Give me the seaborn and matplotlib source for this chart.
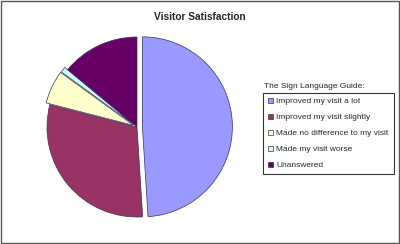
import matplotlib
matplotlib.use("Agg")
import matplotlib.pyplot as plt
import seaborn as sns
from matplotlib.patches import Rectangle

sns.set_style("white")
plt.rcParams['font.family'] = ['Liberation Sans', 'DejaVu Sans']

categories = ["Improved my visit a lot", "Improved my visit slightly",
              "Made no difference to my visit", "Made my visit worse", "Unanswered"]
values = [49, 30, 6, 1, 14]
colors = sns.color_palette(["#9999FF", "#993366", "#FFFFCC", "#CCFFFF", "#660066"])
explode = [0.06, 0.0, 0.045, 0.04, 0.0]

fig = plt.figure(figsize=(4.0, 2.44), dpi=100)
fig.patch.set_facecolor("white")

cx, cy, half = 137, 127, 100
ax = fig.add_axes([(cx - half) / 400, (244 - cy - half) / 244, 2 * half / 400, 2 * half / 244])
wedges, _ = ax.pie(values, colors=colors, startangle=90, counterclock=False,
                   explode=explode, radius=1.0,
                   wedgeprops=dict(edgecolor="#333355", linewidth=0.5))
lim = half / 90
ax.set_xlim(-lim, lim)
ax.set_ylim(-lim, lim)
ax.set_aspect("equal")
ax.axis("off")

fig.text(200 / 400, 1 - 17 / 244, "Visitor Satisfaction", ha="center", va="center",
         fontsize=7.3, fontweight="bold")
fig.text(264 / 400, 1 - 86 / 244, "The Sign Language Guide:", ha="left", va="center",
         fontsize=6)

leg = fig.legend(wedges, categories, loc="upper left",
                 bbox_to_anchor=(263 / 400, 1 - 171 / 244, 131 / 400, 78 / 244),
                 mode="expand", borderaxespad=0, fontsize=6, frameon=True,
                 fancybox=False, handlelength=0.7, handleheight=0.7,
                 handletextpad=0.3, labelspacing=0.98, borderpad=0.55)
leg.get_frame().set_edgecolor("black")
leg.get_frame().set_linewidth(0.8)

fig.patches.append(Rectangle((0.0015, 0.0025), 0.997, 0.995, transform=fig.transFigure,
                             fill=False, edgecolor="#555555", linewidth=1))

fig.savefig("out.png", dpi=100)
